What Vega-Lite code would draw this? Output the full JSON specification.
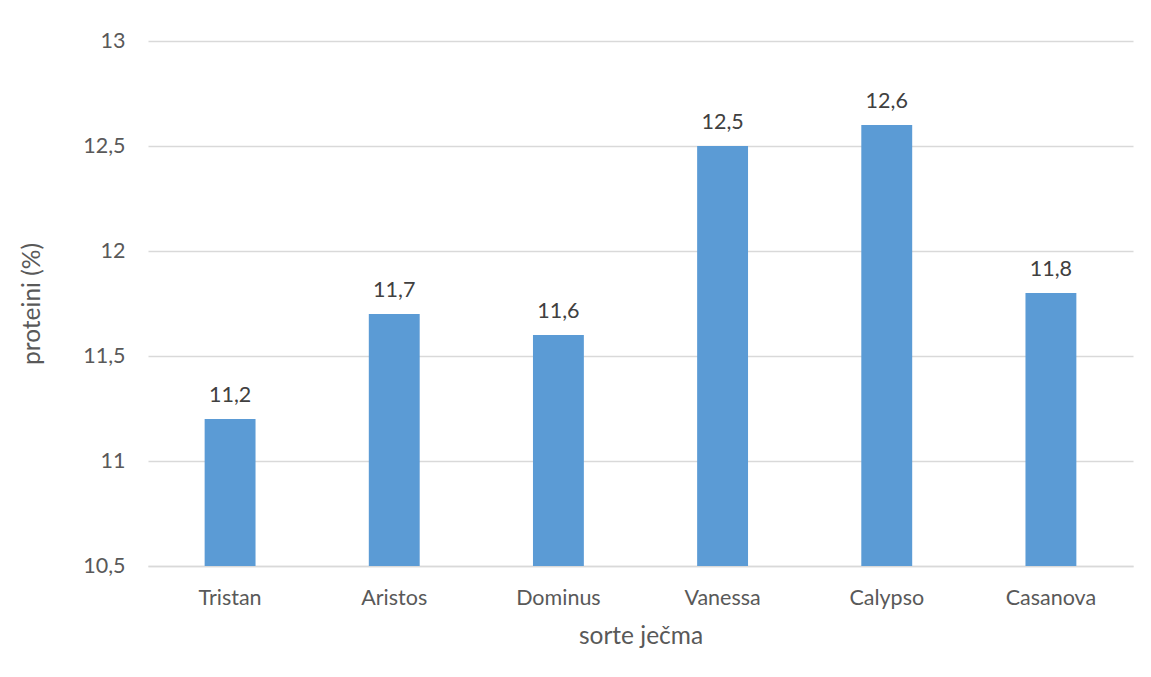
{
  "$schema": "https://vega.github.io/schema/vega-lite/v6.json",
  "autosize": {"type": "none"},
  "padding": {"left": 148, "top": 41, "right": 18, "bottom": 111},
  "width": 985,
  "height": 525,
  "background": "white",
  "config": {
    "view": {"stroke": null},
    "font": "Lato",
    "locale": {"number": {"decimal": ",", "thousands": ".", "grouping": [3], "currency": ["", " €"]}}
  },
  "data": {
    "values": [
      {"sorta": "Tristan", "proteini": 11.2},
      {"sorta": "Aristos", "proteini": 11.7},
      {"sorta": "Dominus", "proteini": 11.6},
      {"sorta": "Vanessa", "proteini": 12.5},
      {"sorta": "Calypso", "proteini": 12.6},
      {"sorta": "Casanova", "proteini": 11.8}
    ]
  },
  "encoding": {
    "x": {
      "field": "sorta", "type": "nominal", "sort": null,
      "scale": {"paddingInner": 0.69, "paddingOuter": 0.345},
      "axis": {
        "title": "sorte ječma", "labelAngle": 0, "ticks": false, "domain": true,
        "domainColor": "#D9D9D9", "domainWidth": 1.3,
        "labelFont": "Lato", "labelFontSize": 21.5, "labelColor": "#595959", "labelPadding": 21,
        "titleFont": "Lato", "titleFontSize": 24.5, "titleFontWeight": "normal", "titleColor": "#595959", "titlePadding": 16
      }
    },
    "y": {
      "field": "proteini", "type": "quantitative",
      "scale": {"domain": [10.5, 13], "zero": false, "nice": false},
      "axis": {
        "title": "proteini (%)", "values": [10.5, 11, 11.5, 12, 12.5, 13], "format": "~g",
        "ticks": false, "domain": false, "grid": true, "gridColor": "#D9D9D9", "gridWidth": 1.3,
        "labelFont": "Lato", "labelFontSize": 21.5, "labelColor": "#595959", "labelPadding": 23,
        "titleFont": "Lato", "titleFontSize": 24.5, "titleFontWeight": "normal", "titleColor": "#595959", "titlePadding": 38
      }
    }
  },
  "layer": [
    {
      "mark": {"type": "bar", "color": "#5B9BD5"},
      "encoding": {"y2": {"datum": 10.5}}
    },
    {
      "mark": {"type": "text", "baseline": "alphabetic", "dy": -17, "fontSize": 21.5, "color": "#404040", "font": "Lato"},
      "encoding": {"text": {"field": "proteini", "type": "quantitative", "format": ".1f"}}
    }
  ]
}
